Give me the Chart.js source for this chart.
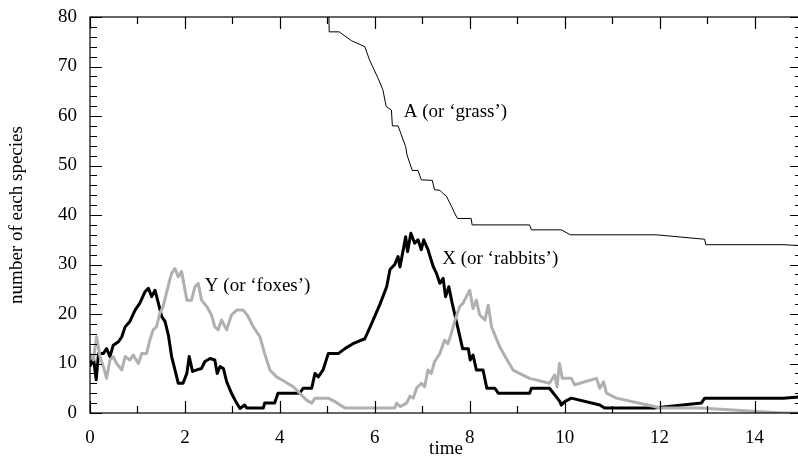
<!DOCTYPE html>
<html>
<head>
<meta charset="utf-8">
<script src="https://cdn.jsdelivr.net/npm/chart.js@4.4.1/dist/chart.umd.min.js"></script>
<style>
  html, body { margin: 0; padding: 0; background: #fff; overflow: hidden; }
  #wrap { width: 798px; height: 466px; overflow: hidden; }
  #box { width: 806px; height: 466px; position: relative; }
</style>
</head>
<body>
<div id="wrap"><div id="box"><canvas id="chart"></canvas></div></div>
<script>
// [time, count]
const rabbits = [
  [0, 9.4], [0.07, 11.4], [0.13, 6.7], [0.18, 12], [0.28, 12], [0.35, 13], [0.42, 11.4], [0.49, 13.7],
  [0.6, 14.4], [0.67, 15.4], [0.74, 17.4], [0.84, 18.5], [0.95, 20.8], [1.05, 22.2], [1.16, 24.5],
  [1.23, 25.2], [1.3, 23.5], [1.37, 24.8], [1.44, 22.2], [1.51, 19.5], [1.58, 18.5], [1.65, 15.8],
  [1.72, 11.4], [1.79, 8.7], [1.86, 6], [1.96, 6], [2.04, 8], [2.09, 11.4], [2.16, 8.4], [2.25, 8.7],
  [2.35, 9], [2.42, 10.4], [2.53, 11], [2.63, 10.7], [2.68, 8], [2.74, 9.4], [2.81, 9], [2.88, 6.3],
  [2.98, 4], [3.09, 2], [3.16, 0.9], [3.26, 1.6], [3.3, 1], [3.65, 1], [3.68, 2], [3.89, 2], [3.96, 4],
  [4.42, 4], [4.49, 5], [4.67, 5], [4.74, 8], [4.81, 7.3], [4.91, 8.7], [5.02, 12], [5.23, 12],
  [5.37, 13], [5.54, 14], [5.79, 15], [5.93, 18], [6.11, 22], [6.25, 25.5], [6.32, 29], [6.42, 30],
  [6.49, 31.6], [6.53, 29.5], [6.6, 33], [6.65, 35.6], [6.69, 32.6], [6.76, 36.3], [6.84, 34.3],
  [6.91, 35], [6.98, 33], [7.03, 35], [7.12, 33], [7.23, 29.6], [7.3, 28.2], [7.37, 26.2], [7.44, 27.2],
  [7.49, 23.5], [7.56, 25.5], [7.63, 22.2], [7.68, 20.1], [7.76, 16.8], [7.85, 13], [7.97, 13],
  [8.01, 10.7], [8.07, 11.7], [8.14, 8.7], [8.28, 8.7], [8.36, 5], [8.53, 5], [8.6, 4], [9.26, 4],
  [9.3, 5], [9.68, 5], [9.82, 3.3], [9.9, 2.3], [9.93, 1.6], [10.0, 2.3], [10.14, 3], [10.74, 1.6],
  [10.84, 1], [11.89, 1], [12.88, 2], [12.95, 3], [14.6, 3], [15, 3.3]
];

const foxes = [
  [0, 12], [0.07, 10.7], [0.14, 15.4], [0.21, 11.4], [0.28, 9.4], [0.35, 7], [0.42, 10.7], [0.49, 11.4],
  [0.56, 10], [0.67, 8.7], [0.74, 11.4], [0.84, 10.7], [0.91, 11.7], [1.02, 10], [1.09, 12], [1.19, 12],
  [1.26, 14.7], [1.33, 16.8], [1.4, 17.4], [1.47, 20.1], [1.54, 21.5], [1.61, 24.2], [1.68, 26.9],
  [1.72, 28.2], [1.79, 29.2], [1.86, 27.5], [1.93, 28.6], [2.04, 22.8], [2.14, 22.8], [2.21, 25.5],
  [2.28, 26.2], [2.35, 22.8], [2.46, 21.5], [2.56, 19.8], [2.63, 17.4], [2.7, 16.8], [2.77, 18.8],
  [2.88, 16.8], [2.98, 19.8], [3.09, 20.8], [3.23, 20.8], [3.33, 19.5], [3.44, 17.4], [3.58, 15.4],
  [3.68, 12], [3.79, 8.7], [3.93, 7.3], [4.11, 6.3], [4.28, 5.3], [4.42, 4], [4.56, 2.6], [4.67, 2],
  [4.74, 3], [5.02, 3], [5.16, 2.3], [5.37, 1], [6.42, 1], [6.46, 2], [6.53, 1.3], [6.67, 2], [6.74, 3.4],
  [6.81, 3], [6.88, 5], [6.98, 6], [7.05, 5.3], [7.12, 8.7], [7.19, 8], [7.26, 10.4], [7.37, 12],
  [7.47, 14.7], [7.54, 14], [7.61, 16], [7.68, 18.5], [7.79, 21.5], [7.86, 22.2], [7.93, 23.5],
  [8.0, 24.8], [8.07, 21.1], [8.14, 22.8], [8.21, 19.8], [8.32, 18.8], [8.39, 21.8], [8.46, 17.4],
  [8.63, 13.4], [8.77, 11], [8.92, 8.6], [9.26, 7], [9.68, 6], [9.79, 7.7], [9.84, 5.3], [9.89, 10],
  [9.95, 7], [10.14, 7], [10.21, 5.7], [10.67, 7], [10.74, 5], [10.82, 6.3], [10.88, 4], [11.09, 3],
  [11.89, 1.3], [12.0, 1], [12.84, 1], [14.6, 0], [15, 0]
];

const grass = [
  [5.02, 85], [5.04, 77], [5.25, 77], [5.51, 75.2], [5.79, 74], [5.89, 71.3], [6.07, 67.6], [6.17, 65.3],
  [6.24, 61.9], [6.35, 61.2], [6.37, 58], [6.49, 58], [6.65, 53.8], [6.68, 52.1], [6.74, 50.4],
  [6.79, 49], [6.91, 49], [6.98, 47.1], [7.21, 47], [7.26, 45.1], [7.37, 45], [7.42, 44.5], [7.51, 43.8],
  [7.56, 42.8], [7.63, 41.5], [7.68, 40.4], [7.74, 39.3], [8.03, 39.3], [8.05, 38], [9.26, 38],
  [9.3, 37], [9.93, 37], [10.12, 36], [11.93, 36], [12.95, 35.1], [12.97, 34], [14.6, 34], [15, 33.8]
];

const xTicks = [0, 2, 4, 6, 8, 10, 12, 14];
const yTicks = [0, 10, 20, 30, 40, 50, 60, 70, 80];

const labels = [
  { text: 'A (or \u2018grass\u2019)', x: 6.61, y: 59.8 },
  { text: 'Y (or \u2018foxes\u2019)', x: 2.42, y: 24.7 },
  { text: 'X (or \u2018rabbits\u2019)', x: 7.42, y: 30.1 }
];

const FONT = '"Liberation Serif", "Times New Roman", serif';

const toPoints = (rows) => rows.map(r => ({ x: r[0], y: r[1] }));

// box with ticks pointing inwards, plus the curve names
const framePlugin = {
  id: 'frame',
  afterDraw(chart) {
    const { ctx, chartArea: a, scales } = chart;
    const xs = scales.x, ys = scales.y;
    ctx.save();
    ctx.strokeStyle = '#000';
    ctx.lineWidth = 1.2;
    ctx.strokeRect(a.left, a.top, a.right - a.left, a.bottom - a.top);

    ctx.beginPath();
    for (let v = xs.min; v <= xs.max; v += 1) {
      const len = xTicks.includes(v) ? 12 : 7;
      const px = Math.round(xs.getPixelForValue(v)) + 0.5;
      ctx.moveTo(px, a.bottom); ctx.lineTo(px, a.bottom - len);
      ctx.moveTo(px, a.top); ctx.lineTo(px, a.top + len);
    }
    for (let v = ys.min; v <= ys.max; v += 2) {
      const len = yTicks.includes(v) ? 12 : 7;
      const py = Math.round(ys.getPixelForValue(v)) + 0.5;
      ctx.moveTo(a.left, py); ctx.lineTo(a.left + len, py);
      ctx.moveTo(a.right, py); ctx.lineTo(a.right - len, py);
    }
    ctx.stroke();

    ctx.fillStyle = '#000';
    ctx.font = '19px ' + FONT;
    ctx.textBaseline = 'alphabetic';
    ctx.textAlign = 'left';
    labels.forEach(l => {
      ctx.fillText(l.text, xs.getPixelForValue(l.x), ys.getPixelForValue(l.y));
    });
    ctx.restore();
  }
};

new Chart(document.getElementById('chart'), {
  type: 'line',
  data: {
    datasets: [
      { label: 'Y', data: toPoints(foxes), borderColor: '#b0b0b0', borderWidth: 3 },
      { label: 'X', data: toPoints(rabbits), borderColor: '#000', borderWidth: 3 },
      { label: 'A', data: toPoints(grass), borderColor: '#000', borderWidth: 1 }
    ]
  },
  options: {
    responsive: true,
    maintainAspectRatio: false,
    animation: false,
    parsing: false,
    elements: {
      point: { radius: 0 },
      line: { tension: 0, borderJoinStyle: 'round', borderCapStyle: 'butt' }
    },
    layout: { padding: { top: 17, right: 4, left: 0, bottom: 0 } },
    plugins: { legend: { display: false }, tooltip: { enabled: false } },
    scales: {
      x: {
        type: 'linear',
        min: 0,
        max: 15,
        grid: { display: false },
        border: { display: false },
        afterBuildTicks: (s) => { s.ticks = xTicks.map(v => ({ value: v })); },
        afterFit: (s) => { s.height = 53; },
        ticks: { color: '#000', padding: 6, maxRotation: 0, font: { family: FONT, size: 19 } },
        title: {
          display: true, text: 'time', color: '#000',
          padding: { top: 0, bottom: 6 },
          font: { family: FONT, size: 19 }
        }
      },
      y: {
        type: 'linear',
        min: 0,
        max: 80,
        grid: { display: false },
        border: { display: false },
        afterBuildTicks: (s) => { s.ticks = yTicks.map(v => ({ value: v })); },
        afterFit: (s) => { s.width = 90; },
        ticks: { color: '#000', padding: 5, font: { family: FONT, size: 19 } },
        title: {
          display: true, text: 'number of each species', color: '#000',
          padding: { top: 6, bottom: 0 },
          font: { family: FONT, size: 19 }
        }
      }
    }
  },
  plugins: [framePlugin]
});
</script>
</body>
</html>
